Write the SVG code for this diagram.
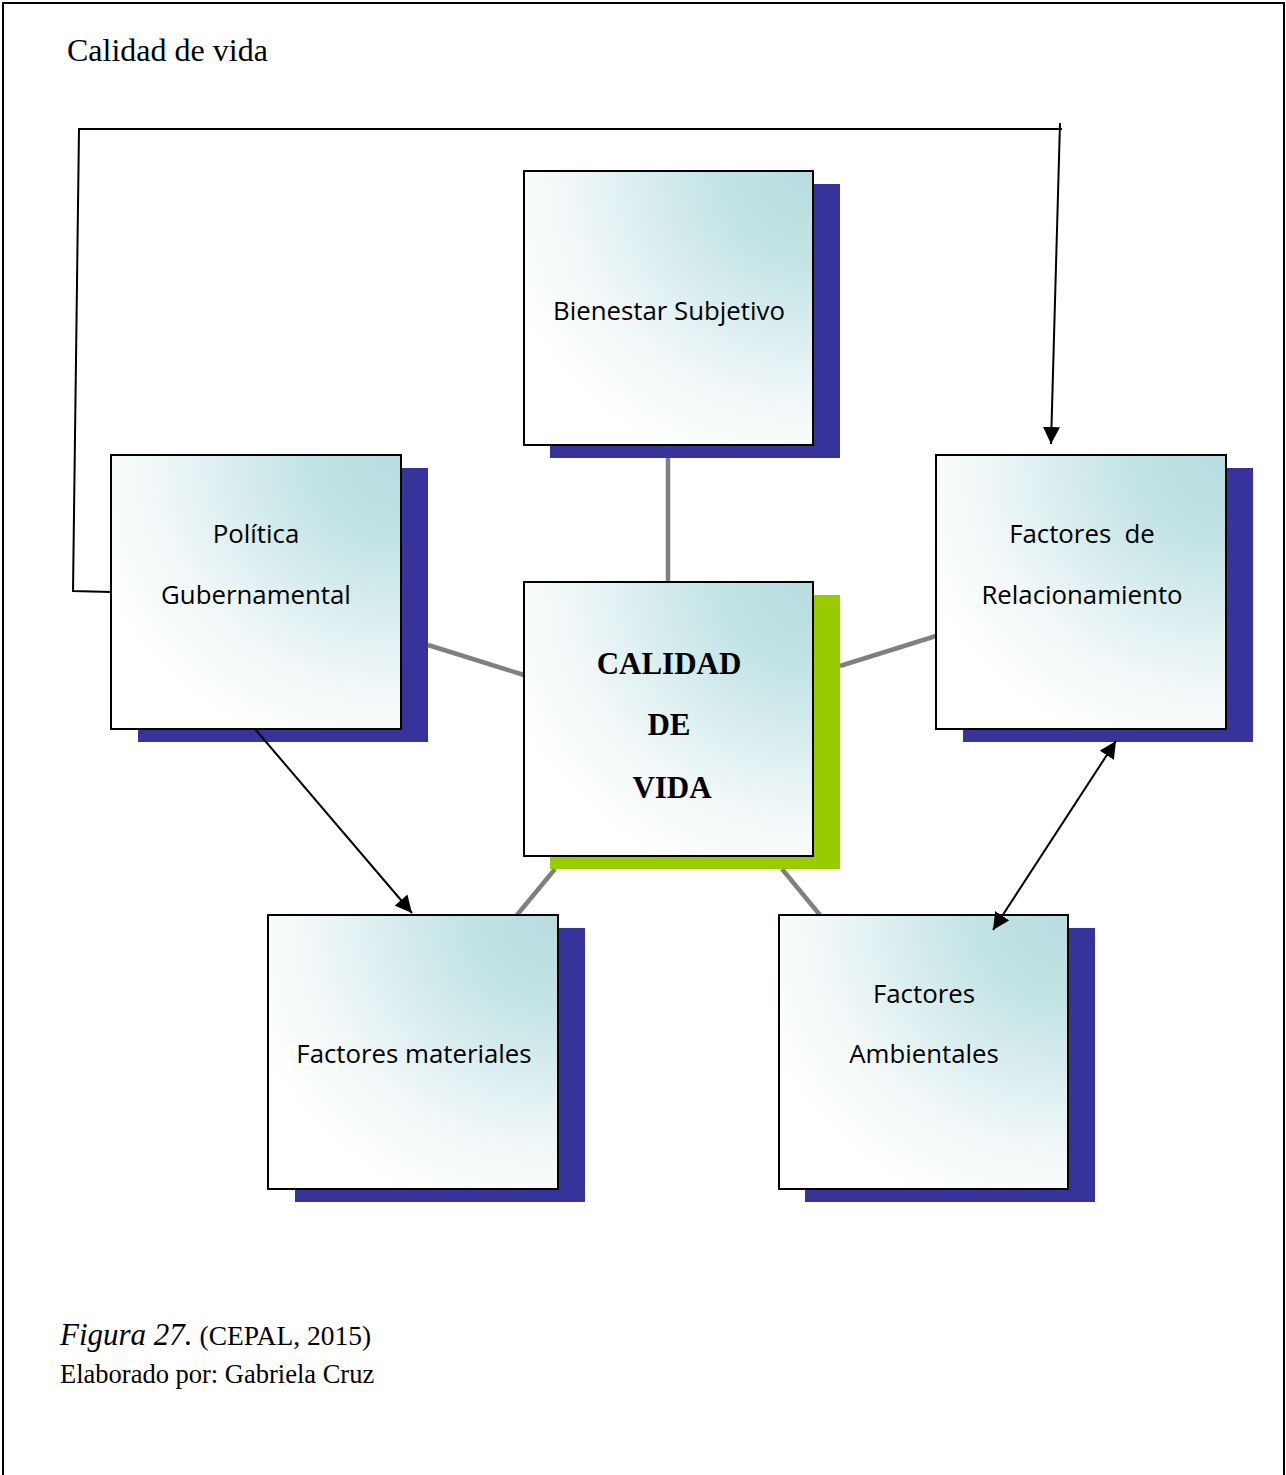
<svg xmlns="http://www.w3.org/2000/svg" width="1286" height="1475" viewBox="0 0 1286 1475">
<defs>
<radialGradient id="g" cx="1" cy="0" r="1.15" fx="1" fy="0">
<stop offset="0" stop-color="#b6dcdf"/>
<stop offset="0.3" stop-color="#c4e4e6"/>
<stop offset="0.75" stop-color="#f2f8f9"/>
<stop offset="1" stop-color="#ffffff"/>
</radialGradient>
<marker id="ah" viewBox="0 0 10 10" refX="10" refY="5" markerWidth="8.5" markerHeight="8.5" markerUnits="strokeWidth" orient="auto-start-reverse">
<path d="M0,0 L10,5 L0,10 z" fill="#000"/>
</marker>
<style>
.box{fill:url(#g);stroke:#000;stroke-width:2}
.sh{fill:#36349a}
.shg{fill:#99cc00}
.lbl{font-family:"Open Sans","Noto Sans",sans-serif;font-size:25.8px;fill:#000;text-anchor:middle}
.big{font-family:"Liberation Serif","Times New Roman",serif;font-weight:bold;font-size:31px;fill:#000;text-anchor:middle}
.gray{stroke:#808080;stroke-width:4.5;fill:none}
.blk{stroke:#000;stroke-width:2;fill:none}
.ser{font-family:"Liberation Serif","Times New Roman",serif;fill:#000}
</style>
</defs>
<rect x="0" y="0" width="1286" height="1475" fill="#fff"/>
<rect x="3" y="3" width="1281" height="1490" fill="none" stroke="#000" stroke-width="2"/>
<text class="ser" x="67" y="61" font-size="32">Calidad de vida</text>

<g id="connectors">
<line class="gray" x1="668" y1="458" x2="668" y2="582"/>
<line class="gray" x1="428" y1="645" x2="524" y2="675"/>
<line class="gray" x1="840" y1="666" x2="936" y2="636"/>
<line class="gray" x1="555" y1="869" x2="517" y2="915"/>
<line class="gray" x1="782" y1="869" x2="820" y2="915"/>
</g>

<g id="n-bienestar">
<rect class="sh" x="550" y="184" width="290" height="274"/>
<rect class="box" x="524" y="171" width="289" height="274"/>
<text class="lbl" x="669" y="320">Bienestar Subjetivo</text>
</g>
<g id="n-politica">
<rect class="sh" x="138" y="468" width="290" height="274"/>
<rect class="box" x="111" y="455" width="290" height="274"/>
<text class="lbl" x="256" y="543">Política</text>
<text class="lbl" x="256" y="604">Gubernamental</text>
</g>
<g id="n-relacionamiento">
<rect class="sh" x="963" y="468" width="290" height="274"/>
<rect class="box" x="936" y="455" width="290" height="274"/>
<text class="lbl" x="1082" y="543" xml:space="preserve">Factores  de</text>
<text class="lbl" x="1082" y="604">Relacionamiento</text>
</g>
<g id="n-calidad">
<rect class="shg" x="550" y="595" width="290" height="274"/>
<rect class="box" x="524" y="582" width="289" height="274"/>
<text class="big" x="669" y="674">CALIDAD</text>
<text class="big" x="669" y="735">DE</text>
<text class="big" x="672" y="798">VIDA</text>
</g>
<g id="n-materiales">
<rect class="sh" x="295" y="928" width="290" height="274"/>
<rect class="box" x="268" y="915" width="290" height="274"/>
<text class="lbl" x="414" y="1063">Factores materiales</text>
</g>
<g id="n-ambientales">
<rect class="sh" x="805" y="928" width="290" height="274"/>
<rect class="box" x="779" y="915" width="289" height="274"/>
<text class="lbl" x="924" y="1003">Factores</text>
<text class="lbl" x="924" y="1063">Ambientales</text>
</g>

<g id="arrows">
<polyline class="blk" points="111,592 73,591 79,129 1062,129"/>
<line class="blk" x1="1060" y1="123" x2="1051" y2="444" marker-end="url(#ah)"/>
<line class="blk" x1="255" y1="729" x2="412" y2="913" marker-end="url(#ah)"/>
<line class="blk" x1="993" y1="930" x2="1116" y2="741" marker-start="url(#ah)" marker-end="url(#ah)"/>
</g>

<text class="ser" x="60" y="1345"><tspan font-style="italic" font-size="31">Figura 27.</tspan><tspan font-size="27.5"> (CEPAL, 2015)</tspan></text>
<text class="ser" x="60" y="1383" font-size="26.5">Elaborado por: Gabriela Cruz</text>
</svg>
